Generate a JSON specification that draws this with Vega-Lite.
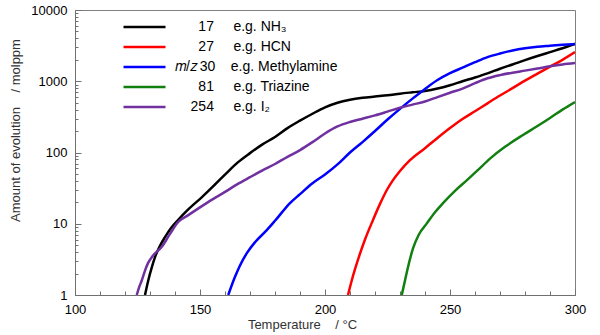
{
  "$schema": "https://vega.github.io/schema/vega-lite/v6.json",
  "width": 500,
  "height": 285,
  "autosize": {"type": "none"},
  "padding": {"left": 75, "top": 10, "right": 25, "bottom": 40},
  "background": "white",
  "config": {
    "view": {"stroke": "#808080", "strokeWidth": 1},
    "font": "Liberation Sans"
  },
  "data": {
    "values": [
      {"mz": "17", "T": 128, "v": 1},
      {"mz": "17", "T": 129.3, "v": 1.6},
      {"mz": "17", "T": 130.8, "v": 2.5},
      {"mz": "17", "T": 132, "v": 3.4},
      {"mz": "17", "T": 134, "v": 4.9},
      {"mz": "17", "T": 136, "v": 6.5},
      {"mz": "17", "T": 138.5, "v": 8.8},
      {"mz": "17", "T": 141.2, "v": 11.3},
      {"mz": "17", "T": 145, "v": 15.5},
      {"mz": "17", "T": 150.8, "v": 23.7},
      {"mz": "17", "T": 155.8, "v": 35},
      {"mz": "17", "T": 160.5, "v": 51},
      {"mz": "17", "T": 165, "v": 72},
      {"mz": "17", "T": 170, "v": 98},
      {"mz": "17", "T": 175, "v": 130},
      {"mz": "17", "T": 180, "v": 165},
      {"mz": "17", "T": 185, "v": 220},
      {"mz": "17", "T": 190, "v": 280},
      {"mz": "17", "T": 195, "v": 350},
      {"mz": "17", "T": 200, "v": 430},
      {"mz": "17", "T": 205, "v": 500},
      {"mz": "17", "T": 210, "v": 550},
      {"mz": "17", "T": 215, "v": 585},
      {"mz": "17", "T": 220, "v": 610},
      {"mz": "17", "T": 225, "v": 635},
      {"mz": "17", "T": 230, "v": 670},
      {"mz": "17", "T": 235, "v": 700},
      {"mz": "17", "T": 240, "v": 730},
      {"mz": "17", "T": 245, "v": 790},
      {"mz": "17", "T": 250, "v": 880},
      {"mz": "17", "T": 255, "v": 1000},
      {"mz": "17", "T": 260, "v": 1130},
      {"mz": "17", "T": 265, "v": 1290},
      {"mz": "17", "T": 270, "v": 1500},
      {"mz": "17", "T": 275, "v": 1720},
      {"mz": "17", "T": 280, "v": 1980},
      {"mz": "17", "T": 285, "v": 2260},
      {"mz": "17", "T": 290, "v": 2560},
      {"mz": "17", "T": 295, "v": 2900},
      {"mz": "17", "T": 300, "v": 3330},

      {"mz": "27", "T": 209.2, "v": 1},
      {"mz": "27", "T": 210.7, "v": 1.6},
      {"mz": "27", "T": 212, "v": 2.3},
      {"mz": "27", "T": 214, "v": 3.8},
      {"mz": "27", "T": 216, "v": 6},
      {"mz": "27", "T": 219.2, "v": 11.3},
      {"mz": "27", "T": 222, "v": 19},
      {"mz": "27", "T": 224.8, "v": 30},
      {"mz": "27", "T": 227, "v": 40},
      {"mz": "27", "T": 230, "v": 55},
      {"mz": "27", "T": 234, "v": 78},
      {"mz": "27", "T": 240, "v": 115},
      {"mz": "27", "T": 245, "v": 160},
      {"mz": "27", "T": 250, "v": 220},
      {"mz": "27", "T": 255, "v": 295},
      {"mz": "27", "T": 260, "v": 380},
      {"mz": "27", "T": 265, "v": 490},
      {"mz": "27", "T": 270, "v": 630},
      {"mz": "27", "T": 275, "v": 800},
      {"mz": "27", "T": 280, "v": 1020},
      {"mz": "27", "T": 285, "v": 1280},
      {"mz": "27", "T": 290, "v": 1600},
      {"mz": "27", "T": 295, "v": 2000},
      {"mz": "27", "T": 300, "v": 2570},

      {"mz": "30", "T": 161.3, "v": 1},
      {"mz": "30", "T": 164, "v": 1.8},
      {"mz": "30", "T": 166, "v": 2.6},
      {"mz": "30", "T": 168.8, "v": 3.9},
      {"mz": "30", "T": 172, "v": 5.5},
      {"mz": "30", "T": 176.8, "v": 8.2},
      {"mz": "30", "T": 180, "v": 11},
      {"mz": "30", "T": 186, "v": 19.5},
      {"mz": "30", "T": 190, "v": 26},
      {"mz": "30", "T": 195, "v": 37},
      {"mz": "30", "T": 200, "v": 49},
      {"mz": "30", "T": 205, "v": 68},
      {"mz": "30", "T": 210, "v": 100},
      {"mz": "30", "T": 215, "v": 140},
      {"mz": "30", "T": 220, "v": 200},
      {"mz": "30", "T": 225, "v": 290},
      {"mz": "30", "T": 230, "v": 410},
      {"mz": "30", "T": 235, "v": 570},
      {"mz": "30", "T": 240, "v": 780},
      {"mz": "30", "T": 245, "v": 1040},
      {"mz": "30", "T": 250, "v": 1300},
      {"mz": "30", "T": 255, "v": 1550},
      {"mz": "30", "T": 260, "v": 1850},
      {"mz": "30", "T": 265, "v": 2180},
      {"mz": "30", "T": 270, "v": 2450},
      {"mz": "30", "T": 275, "v": 2700},
      {"mz": "30", "T": 280, "v": 2900},
      {"mz": "30", "T": 285, "v": 3050},
      {"mz": "30", "T": 290, "v": 3150},
      {"mz": "30", "T": 295, "v": 3250},
      {"mz": "30", "T": 300, "v": 3330},

      {"mz": "81", "T": 230.7, "v": 1},
      {"mz": "81", "T": 232, "v": 1.6},
      {"mz": "81", "T": 233, "v": 2.3},
      {"mz": "81", "T": 235.2, "v": 4.5},
      {"mz": "81", "T": 237.5, "v": 7},
      {"mz": "81", "T": 240.8, "v": 10.2},
      {"mz": "81", "T": 244, "v": 14.5},
      {"mz": "81", "T": 247.2, "v": 19.5},
      {"mz": "81", "T": 252, "v": 29},
      {"mz": "81", "T": 256.8, "v": 41},
      {"mz": "81", "T": 261, "v": 56},
      {"mz": "81", "T": 266, "v": 82},
      {"mz": "81", "T": 272, "v": 120},
      {"mz": "81", "T": 279.2, "v": 176},
      {"mz": "81", "T": 285, "v": 235},
      {"mz": "81", "T": 290, "v": 305},
      {"mz": "81", "T": 295, "v": 400},
      {"mz": "81", "T": 300, "v": 512},

      {"mz": "254", "T": 124.7, "v": 1},
      {"mz": "254", "T": 125.7, "v": 1.3},
      {"mz": "254", "T": 126.7, "v": 1.6},
      {"mz": "254", "T": 128, "v": 2.2},
      {"mz": "254", "T": 129.2, "v": 2.8},
      {"mz": "254", "T": 131, "v": 3.5},
      {"mz": "254", "T": 134.8, "v": 4.8},
      {"mz": "254", "T": 138, "v": 7.2},
      {"mz": "254", "T": 141.2, "v": 10.5},
      {"mz": "254", "T": 145, "v": 13},
      {"mz": "254", "T": 150, "v": 17},
      {"mz": "254", "T": 155, "v": 22},
      {"mz": "254", "T": 160, "v": 28},
      {"mz": "254", "T": 165, "v": 36},
      {"mz": "254", "T": 170, "v": 45},
      {"mz": "254", "T": 175, "v": 56},
      {"mz": "254", "T": 180, "v": 69},
      {"mz": "254", "T": 185, "v": 87},
      {"mz": "254", "T": 190, "v": 108},
      {"mz": "254", "T": 195, "v": 140},
      {"mz": "254", "T": 200, "v": 185},
      {"mz": "254", "T": 205, "v": 232},
      {"mz": "254", "T": 210, "v": 268},
      {"mz": "254", "T": 215, "v": 298},
      {"mz": "254", "T": 220, "v": 332},
      {"mz": "254", "T": 225, "v": 375},
      {"mz": "254", "T": 230, "v": 425},
      {"mz": "254", "T": 235, "v": 470},
      {"mz": "254", "T": 240, "v": 520},
      {"mz": "254", "T": 245, "v": 600},
      {"mz": "254", "T": 250, "v": 690},
      {"mz": "254", "T": 255, "v": 790},
      {"mz": "254", "T": 260, "v": 940},
      {"mz": "254", "T": 265, "v": 1100},
      {"mz": "254", "T": 270, "v": 1220},
      {"mz": "254", "T": 275, "v": 1320},
      {"mz": "254", "T": 280, "v": 1410},
      {"mz": "254", "T": 285, "v": 1510},
      {"mz": "254", "T": 290, "v": 1620},
      {"mz": "254", "T": 295, "v": 1720},
      {"mz": "254", "T": 300, "v": 1800}
    ]
  },
  "mark": {"type": "line", "strokeWidth": 2.5, "interpolate": "monotone", "clip": true},
  "encoding": {
    "x": {
      "field": "T",
      "type": "quantitative",
      "scale": {"domain": [100, 300], "nice": false, "zero": false},
      "axis": {
        "values": [100,110,120,130,140,150,160,170,180,190,200,210,220,230,240,250,260,270,280,290,300],
        "labelExpr": "datum.value % 50 === 0 ? datum.label : ''",
        "format": "d",
        "grid": false,
        "tickSize": {"condition": {"test": "datum.value % 50 === 0", "value": -6}, "value": -4},
        "tickColor": "#707070",
        "domainColor": "#707070",
        "labelPadding": 14,
        "labelFont": "Liberation Sans",
        "labelFontSize": 13,
        "labelColor": "#000000",
        "labelFlush": false,
        "labelOverlap": false,
        "title": "Temperature\u2007\u2007/ °C",
        "titleFont": "Liberation Sans",
        "titleFontSize": 13,
        "titleFontWeight": "normal",
        "titleColor": "#333333",
        "titleAnchor": "middle",
        "titleX": 227,
        "titlePadding": 0
      }
    },
    "y": {
      "field": "v",
      "type": "quantitative",
      "scale": {"type": "log", "domain": [1, 10000], "nice": false},
      "axis": {
        "values": [1,2,3,4,5,6,7,8,9,10,20,30,40,50,60,70,80,90,100,200,300,400,500,600,700,800,900,1000,2000,3000,4000,5000,6000,7000,8000,9000,10000],
        "format": "d",
        "labelExpr": "indexof([1,10,100,1000,10000], datum.value) >= 0 ? datum.label : ''",
        "grid": false,
        "tickSize": {"condition": {"test": "indexof([1,10,100,1000,10000], datum.value) >= 0", "value": -6}, "value": -3},
        "tickColor": "#707070",
        "domainColor": "#707070",
        "labelPadding": 14,
        "labelFont": "Liberation Sans",
        "labelFontSize": 13,
        "labelColor": "#000000",
        "labelFlush": false,
        "labelOverlap": false,
        "title": "Amount of evolution\u2007\u2007/ molppm",
        "titleFont": "Liberation Sans",
        "titleFontSize": 13,
        "titleFontWeight": "normal",
        "titleColor": "#333333",
        "titleAnchor": "middle",
        "titleY": 120,
        "titlePadding": 8
      }
    },
    "color": {
      "field": "mz",
      "type": "nominal",
      "scale": {
        "domain": ["17", "27", "30", "81", "254"],
        "range": ["#000000", "#ff0000", "#0000ff", "#118011", "#7030a0"]
      },
      "legend": {
        "orient": "none",
        "legendX": 47,
        "legendY": 7,
        "title": null,
        "padding": 0,
        "symbolType": "stroke",
        "symbolSize": 1764,
        "symbolStrokeWidth": 2.5,
        "clipHeight": 20,
        "rowPadding": 0,
        "labelOffset": 8,
        "labelFont": "Liberation Sans",
        "labelFontSize": 14,
        "labelColor": "#000000",
        "labelLimit": 400,
        "labelExpr": "datum.label === '17' ? '\u200b\u2007\u2007\u200717\u2007\u2007\u00a0e.g. NH₃' : datum.label === '27' ? '\u200b\u2007\u2007\u200727\u2007\u2007\u00a0e.g. HCN' : datum.label === '30' ? '𝑚/𝑧\u200930\u2007\u00a0\u00a0e.g. Methylamine' : datum.label === '81' ? '\u200b\u2007\u2007\u200781\u2007\u2007\u00a0e.g. Triazine' : '\u200b\u2007\u2007254\u2007\u2007\u00a0e.g. I₂'"
      }
    }
  }
}
